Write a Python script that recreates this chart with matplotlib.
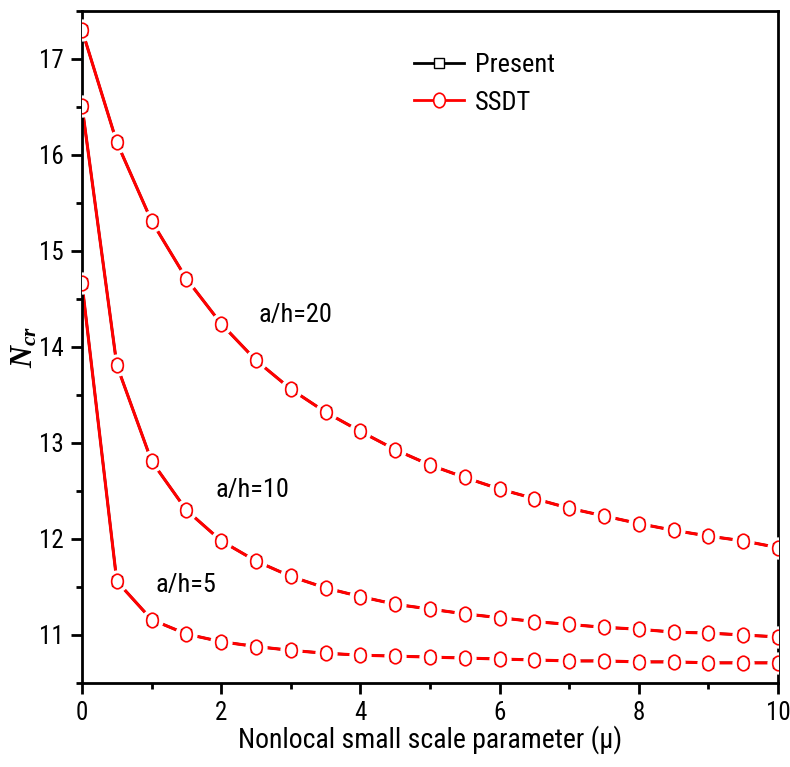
import matplotlib.pyplot as plt
import matplotlib.path as mpath
import matplotlib.transforms as mtransforms
import numpy as np

plt.rcParams['font.family'] = ['Roboto Condensed', 'Liberation Sans', 'DejaVu Sans']
plt.rcParams['mathtext.fontset'] = 'custom'
plt.rcParams['mathtext.it'] = 'Liberation Serif:bold:italic'
plt.rcParams['mathtext.rm'] = 'Liberation Serif:bold'

# Nonlocal parameter mu
mu = [0, 0.5, 1, 1.5, 2, 2.5, 3, 3.5, 4, 4.5, 5, 5.5, 6, 6.5, 7, 7.5, 8, 8.5, 9, 9.5, 10]

# Critical buckling load N_cr
ah20 = [17.30, 16.13, 15.31, 14.71, 14.24, 13.86, 13.56, 13.32, 13.12, 12.93, 12.77,
        12.64, 12.52, 12.42, 12.32, 12.24, 12.16, 12.09, 12.03, 11.98, 11.91]
ah10 = [16.51, 13.81, 12.81, 12.30, 11.98, 11.77, 11.61, 11.49, 11.40, 11.32, 11.27,
        11.22, 11.18, 11.14, 11.11, 11.08, 11.06, 11.03, 11.02, 11.00, 10.98]
ah5 = [14.66, 11.56, 11.16, 11.01, 10.93, 10.88, 10.84, 10.81, 10.79, 10.78, 10.77,
       10.76, 10.75, 10.74, 10.73, 10.73, 10.72, 10.72, 10.71, 10.71, 10.71]

curves = [ah20, ah10, ah5]
labels = ['a/h=20', 'a/h=10', 'a/h=5']
label_pos = [(3.06, 14.33), (2.45, 12.51), (1.5, 11.52)]

# slightly tall ellipse marker
circ = mpath.Path.unit_circle()
ellipse = circ.transformed(mtransforms.Affine2D().scale(0.8, 1.0))

fig = plt.figure(figsize=(7.9, 7.67), dpi=100)
ax = fig.add_axes([0.1038, 0.1095, 0.881, 0.8765])

for i, y in enumerate(curves):
    # Present (black squares) under the SSDT curve
    ax.plot(mu, y, color='black', lw=1.8, zorder=2)
    ax.plot(mu, y, color='red', lw=2.2, zorder=2.5)
    # white gap around symbols
    ax.plot(mu, y, ls='none', marker='o', ms=15, mfc='white', mec='white', zorder=3)
    ax.plot(mu, y, ls='none', marker='s', ms=7.5, mfc='white', mec='black',
            mew=1.0, zorder=4)
    ax.plot(mu, y, ls='none', marker=ellipse, ms=10.5, mfc='white', mec='red',
            mew=1.2, zorder=5)

for lab, (tx, ty) in zip(labels, label_pos):
    ax.text(tx, ty, lab, fontsize=19, ha='center', va='center')

# legend handles
h1, = ax.plot([], [], color='black', lw=2, marker='s', ms=7.5, mfc='white', mec='black', mew=1.0)
h2, = ax.plot([], [], color='red', lw=2, marker=ellipse, ms=10.5, mfc='white', mec='red', mew=1.2)
ax.legend([h1, h2], ['Present', 'SSDT'], loc='upper left', bbox_to_anchor=(0.443, 0.972),
          frameon=False, fontsize=19, handlelength=1.9, labelspacing=0.5, handletextpad=0.4)

ax.set_xlim(0, 10)
ax.set_ylim(10.5, 17.5)
ax.set_xticks([0, 2, 4, 6, 8, 10])
ax.set_xticks([1, 3, 5, 7, 9], minor=True)
ax.set_yticks([11, 12, 13, 14, 15, 16, 17])
ax.set_yticks(np.arange(10.5, 17.6, 0.5), minor=True)
ax.tick_params(which='major', direction='out', length=8, width=2, labelsize=18, pad=5)
ax.tick_params(which='minor', direction='out', length=4, width=2)
for s in ax.spines.values():
    s.set_linewidth(2)

ax.set_xlabel('Nonlocal small scale parameter (\u03bc)', fontsize=20, labelpad=0)
ax.set_ylabel(r'$N_{cr}$', fontsize=22)
ax.yaxis.set_label_coords(-0.062, 0.5)

plt.savefig('out.png', dpi=100)
